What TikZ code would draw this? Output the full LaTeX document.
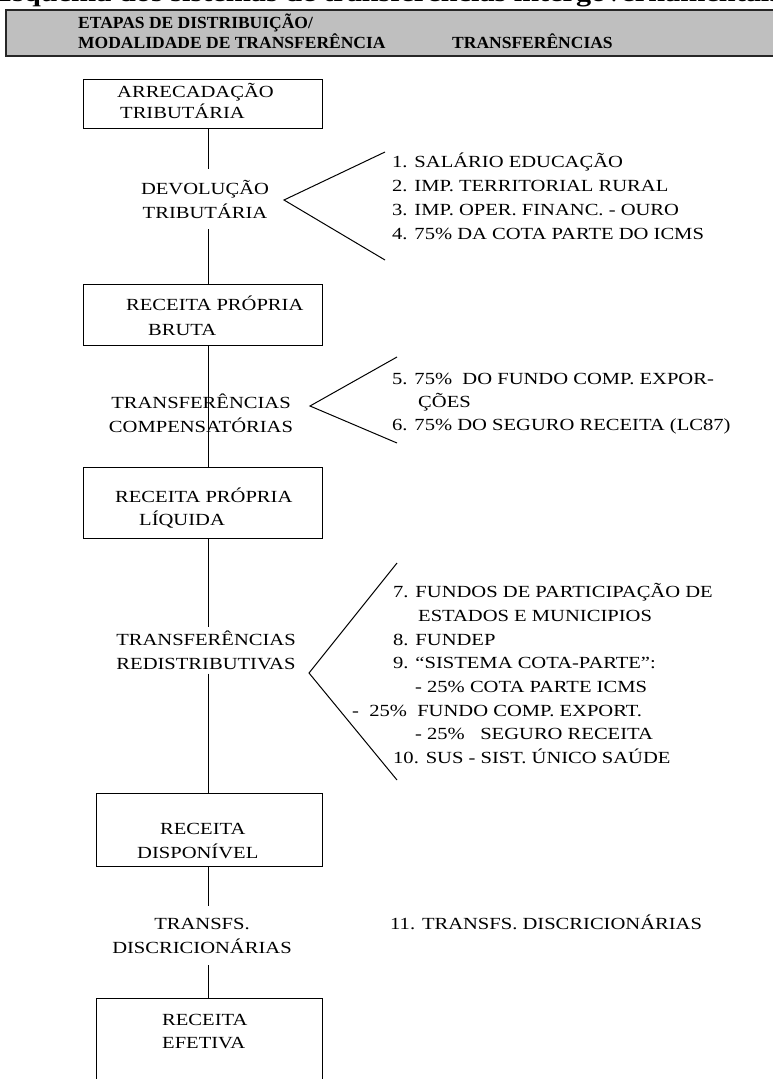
\documentclass[tikz,border=0pt]{standalone}
\usepackage{fontspec}
\setmainfont{Liberation Serif}[FakeStretch=1.21]
\newfontfamily\headfont{Liberation Serif}[FakeStretch=1.03]
\usetikzlibrary{calc}
\tikzstyle{block} = [draw,line width=1pt,inner sep=0pt]
\tikzstyle{blocktext} = [inner sep=0pt,align=left,anchor=base west,font=\fontsize{17}{23}\selectfont]
\tikzstyle{stage} = [align=center,inner xsep=0pt,font=\fontsize{17}{24}\selectfont]
\tikzstyle{transfer} = [inner sep=0pt,align=left,anchor=base west,font=\fontsize{17}{24}\selectfont]
\tikzstyle{link} = [draw,line width=1pt]
\tikzstyle{head} = [draw=black!85,line width=1.6pt,fill=black!25,inner sep=0pt,anchor=north west]
\tikzstyle{headtext} = [inner sep=0pt,anchor=base west,align=left,font=\headfont\bfseries\fontsize{17}{20}\selectfont]
\tikzstyle{pagetitle} = [inner sep=0pt,anchor=base west,font=\bfseries\fontsize{25}{30}\selectfont]

\begin{document}
\begin{tikzpicture}[x=1pt,y=-1pt]
    \useasboundingbox (0,0) rectangle (773,1079);
    \clip (0,0) rectangle (773,1079);

    % title line, cut by the top of the page
    \node[pagetitle] (title) at (-8,1) {Esquema dos sistemas de transferências intergovernamentais};

    % grey header
    \node[head,minimum width=800,minimum height=46] (head) at (5,9) {};
    % (base of a node with several lines = base of its last line)
    \node[headtext] (headleft) at (78,48) {ETAPAS DE DISTRIBUIÇÃO/\\MODALIDADE DE TRANSFERÊNCIA};
    \node[headtext] (headright) at (452,48) {TRANSFERÊNCIAS};

    % First we draw the boxes
    \foreach \pos/\w/\h/\name in {{(202.5,103.5)/239/49/arrec},{(202.5,314.5)/239/61/bruta},
        {(202.5,502.5)/239/71/liquida},{(209,829.5)/226/73/dispon},{(209,1049)/226/102/efetiva}}
        \node[block,minimum width=\w,minimum height=\h] (\name) at \pos {};

    \node[blocktext] (arrectext) at (117,118.6) {ARRECADAÇÃO\\[-2pt]\hspace*{3pt}TRIBUTÁRIA};
    \node[blocktext] (brutatext) at (126,335.6) {RECEITA PRÓPRIA\\[2pt]\hspace*{22pt}BRUTA};
    \node[blocktext] (liquidatext) at (115,525.6) {RECEITA PRÓPRIA\\\hspace*{24pt}LÍQUIDA};
    \node[blocktext] (dispontext) at (137,858.6) {\hspace*{23pt}RECEITA\\[1pt]DISPONÍVEL};
    \node[blocktext] (efetivatext) at (162,1048.6) {RECEITA\\EFETIVA};

    % stages between the boxes
    \node[stage,inner ysep=11pt] (devol) at (205,199) {DEVOLUÇÃO\\TRIBUTÁRIA};
    \node[stage] (compens) at (201,413.5) {TRANSFERÊNCIAS\\COMPENSATÓRIAS};
    \node[stage,inner ysep=3.5pt] (redist) at (206,650.5) {TRANSFERÊNCIAS\\REDISTRIBUTIVAS};
    \node[stage,inner ysep=12pt] (discr) at (202,935.5) {TRANSFS.\\DISCRICIONÁRIAS};

    % Connect the boxes along the spine
    \coordinate (spine) at (208,0);
    \foreach \source/\dest in {arrec/devol,devol/bruta,bruta/liquida,liquida/redist,redist/dispon,dispon/discr,discr/efetiva}
        \path[link] (\source.south -| spine) -- (\dest.north -| spine);

    % lists of transfers
    \node[transfer] (list1) at (392,239.6) {1. SALÁRIO EDUCAÇÃO\\2. IMP. TERRITORIAL RURAL\\3. IMP. OPER. FINANC. - OURO\\4. 75\% DA COTA PARTE DO ICMS};
    \node[transfer] (list2) at (392,430.6) {5. 75\%\ \ DO FUNDO COMP. EXPOR-\\[-1pt]\hspace*{26pt}ÇÕES\\[-1pt]6. 75\% DO SEGURO RECEITA (LC87)};
    \node[transfer,font=\fontsize{17}{23.7}\selectfont] (list3) at (352,763.6) {\hspace*{41pt}7. FUNDOS DE PARTICIPAÇÃO DE\\\hspace*{66pt}ESTADOS E MUNICIPIOS\\
        \hspace*{41pt}8. FUNDEP\\\hspace*{41pt}9. “SISTEMA COTA-PARTE”:\\\hspace*{63pt}- 25\% COTA PARTE ICMS\\
        -\ \ 25\%\ \ FUNDO COMP. EXPORT.\\\hspace*{63pt}- 25\%\ \ \ SEGURO RECEITA\\\hspace*{41pt}10. SUS - SIST. ÚNICO SAÚDE};
    \node[transfer] (list4) at (390,929.6) {11. TRANSFS. DISCRICIONÁRIAS};

    % Draw the brackets
    \coordinate (devtop) at (385,152);
    \coordinate (devtip) at (284,200);
    \coordinate (devbot) at (385,260);
    \coordinate (comtop) at (397,357);
    \coordinate (comtip) at (310,406);
    \coordinate (combot) at (397,443);
    \coordinate (redtop) at (397,563);
    \coordinate (redtip) at (309,673);
    \coordinate (redbot) at (397,780);
    \path[link] (devtop) -- (devtip) -- (devbot);
    \path[link] (comtop) -- (comtip) -- (combot);
    \path[link] (redtop) -- (redtip) -- (redbot);
\end{tikzpicture}
\end{document}
